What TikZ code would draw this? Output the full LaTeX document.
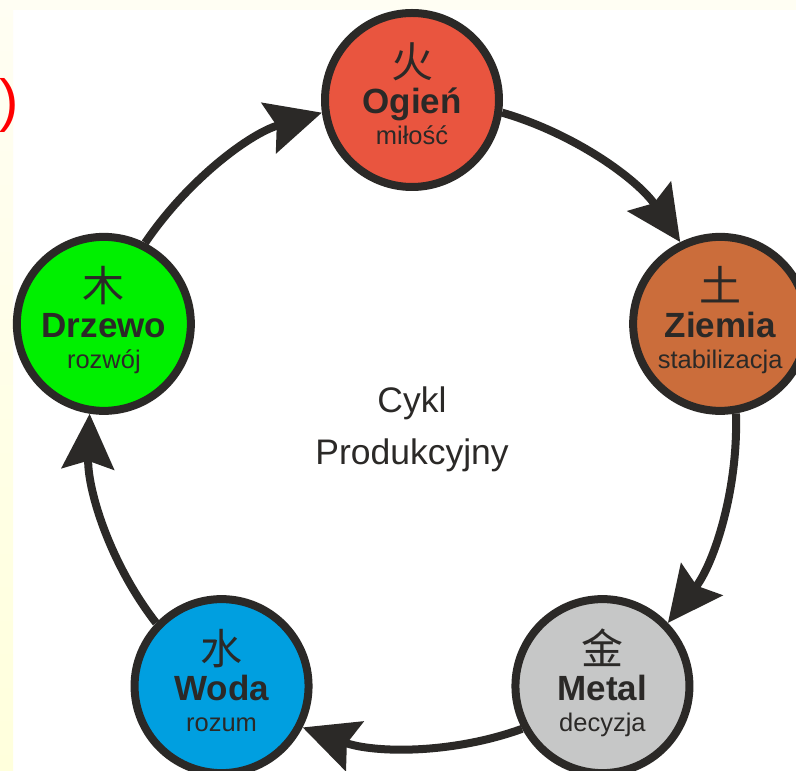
\documentclass[tikz,border=0pt]{standalone}
\usepackage{fontspec}
\setmainfont{Liberation Sans}
\newfontfamily\cjk{Noto Sans CJK SC}
\usetikzlibrary{arrows.meta}
\definecolor{ink}{HTML}{2B2927}
\definecolor{fire}{HTML}{E9553F}
\definecolor{earth}{HTML}{CB6D3B}
\definecolor{wood}{HTML}{00F000}
\definecolor{water}{HTML}{009FE0}
\definecolor{metalc}{HTML}{C6C7C7}
\definecolor{bgtop}{HTML}{FFFEF3}
\definecolor{bgleft}{HTML}{FFFFDC}
\begin{document}
\begin{tikzpicture}[x=1pt,y=1pt,
  elem/.style={circle, draw=ink, line width=8pt, minimum size=174pt, inner sep=0pt},
  kan/.style={font=\cjk\fontsize{42}{42}\selectfont, text=ink, inner sep=0pt, anchor=base},
  nm/.style={font=\bfseries\fontsize{35}{35}\selectfont, text=ink, inner sep=0pt, anchor=base},
  sub/.style={font=\fontsize{25.5}{25.5}\selectfont, text=ink, inner sep=0pt, anchor=base},
  ctr/.style={font=\fontsize{35.5}{35.5}\selectfont, text=ink, inner sep=0pt, anchor=base},
  flow/.style={draw=ink, line width=8pt, -{Stealth[length=55pt,width=52pt,inset=8pt]}}]
\useasboundingbox (0,0) rectangle (796,771);
\fill[white] (0,0) rectangle (796,771);
\fill[bgtop] (0,761) rectangle (796,771);
\shade[top color=bgtop, bottom color=bgleft] (0,0) rectangle (13,771);
\node[font=\fontsize{58}{58}\selectfont, text=red, inner sep=0pt, anchor=base west] (paren) at (-1,650) {)};

\coordinate (C) at (412,347);
\node[elem, fill=fire]   (O) at ([shift={(90:324)}]C) {};
\node[elem, fill=earth]  (Z) at ([shift={(18:324)}]C) {};
\node[elem, fill=metalc] (M) at ([shift={(-54:324)}]C) {};
\node[elem, fill=water]  (W) at ([shift={(-126:324)}]C) {};
\node[elem, fill=wood]   (D) at ([shift={(162:324)}]C) {};

\node[kan] (Ok) at ([yshift=22pt]O.center) {火};
\node[nm]  (On) at ([yshift=-14pt]O.center) {Ogień};
\node[sub] (Os) at ([yshift=-45pt]O.center) {miłość};

\node[kan] (Zk) at ([yshift=22pt]Z.center) {土};
\node[nm]  (Zn) at ([yshift=-14pt]Z.center) {Ziemia};
\node[sub] (Zs) at ([yshift=-45pt]Z.center) {stabilizacja};

\node[kan] (Mk) at ([yshift=22pt]M.center) {金};
\node[nm]  (Mn) at ([yshift=-14pt]M.center) {Metal};
\node[sub] (Ms) at ([yshift=-45pt]M.center) {decyzja};

\node[kan] (Wk) at ([yshift=22pt]W.center) {水};
\node[nm]  (Wn) at ([yshift=-14pt]W.center) {Woda};
\node[sub] (Ws) at ([yshift=-45pt]W.center) {rozum};

\node[kan] (Dk) at ([yshift=22pt]D.center) {木};
\node[nm]  (Dn) at ([yshift=-14pt]D.center) {Drzewo};
\node[sub] (Ds) at ([yshift=-45pt]D.center) {rozwój};

\node[ctr] (c1) at (412,358) {Cykl};
\node[ctr] (c2) at (412,306) {Produkcyjny};

\foreach \a/\b/\al in {O/Z/90, Z/M/18, M/W/-54, W/D/-126, D/O/162}{
  \pgfmathsetmacro\sa{\al-98.07}
  \pgfmathsetmacro\sc{\al-106.15}
  \pgfmathsetmacro\ea{\al-72+98.07}
  \pgfmathsetmacro\ec{\al-72+106.15}
  \draw[flow] (\a.\sa) .. controls +(\sc:75.6) and +(\ec:75.6) .. (\b.\ea);
}
\end{tikzpicture}
\end{document}
